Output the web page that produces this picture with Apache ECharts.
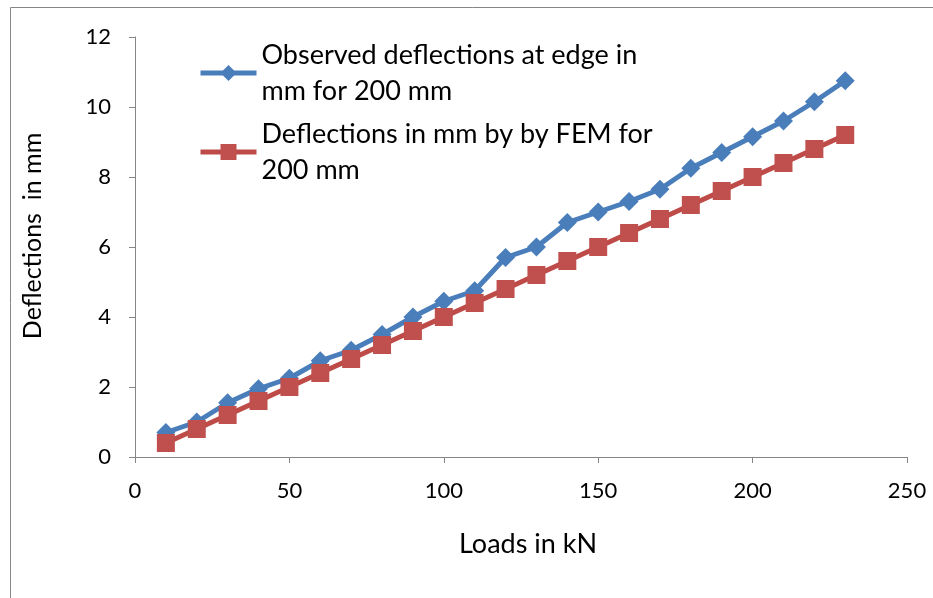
<!DOCTYPE html>
<html>
<head>
<meta charset="utf-8">
<script src="https://cdn.jsdelivr.net/npm/echarts@6/dist/echarts.min.js"></script>
<style>
  html, body { margin: 0; padding: 0; background: #fff; }
  #chart { width: 933px; height: 598px; }
</style>
</head>
<body>
<div id="chart"></div>
<script>
// Loads (kN) and deflections (mm)
const loads = [10, 20, 30, 40, 50, 60, 70, 80, 90, 100, 110, 120, 130, 140, 150, 160, 170, 180, 190, 200, 210, 220, 230];
const observed = [0.7, 1.0, 1.55, 1.95, 2.25, 2.75, 3.05, 3.5, 4.0, 4.45, 4.75, 5.7, 6.0, 6.7, 7.0, 7.3, 7.65, 8.25, 8.7, 9.15, 9.6, 10.15, 10.75];
const fem = [0.4, 0.8, 1.2, 1.6, 2.0, 2.4, 2.8, 3.2, 3.6, 4.0, 4.4, 4.8, 5.2, 5.6, 6.0, 6.4, 6.8, 7.2, 7.6, 8.0, 8.4, 8.8, 9.2];
const seriesNames = ['Observed deflections at edge in\nmm for 200 mm', 'Deflections in mm by by FEM for\n200 mm'];
const xTitle = 'Loads in kN';
const yTitle = 'Deflections  in mm';

const FONT = 'Lato';
const AXIS_GRAY = '#868686';
const LINE_H = 36;

const pairs = (xs, ys) => xs.map((x, i) => [x, ys[i]]);

const legendBase = {
  orient: 'vertical',
  left: 198,
  padding: 0,
  itemWidth: 56,
  itemHeight: 20,
  itemGap: 0,
  lineStyle: { width: 5 },
  textStyle: {
    fontFamily: FONT,
    fontSize: 27,
    color: '#000',
    lineHeight: LINE_H,
    padding: [LINE_H, 0, 0, 0]
  }
};

const chart = echarts.init(document.getElementById('chart'), null, { renderer: 'canvas' });
chart.setOption({
  backgroundColor: '#fff',
  animation: false,
  textStyle: { fontFamily: FONT },
  graphic: [{
    type: 'rect',
    shape: { x: 10.5, y: 7.5, width: 1000, height: 1000 },
    style: { fill: 'none', stroke: AXIS_GRAY, lineWidth: 1 },
    silent: true
  }],
  grid: { left: 135, right: 26, top: 37, bottom: 141 },
  legend: [
    Object.assign({}, legendBase, { top: 19, data: [seriesNames[0]] }),
    Object.assign({}, legendBase, { top: 98, data: [seriesNames[1]] })
  ],
  xAxis: {
    type: 'value',
    min: 0, max: 250, interval: 50,
    name: xTitle,
    nameLocation: 'middle',
    nameGap: 74,
    nameTextStyle: { fontFamily: FONT, fontSize: 27, color: '#000', padding: [0, 0, 0, 14] },
    axisLine: { show: true, lineStyle: { color: AXIS_GRAY, width: 1 } },
    axisTick: { show: true, inside: false, length: 6, lineStyle: { color: AXIS_GRAY } },
    axisLabel: { margin: 23, fontFamily: FONT, fontSize: 22, color: '#000' },
    splitLine: { show: false }
  },
  yAxis: {
    type: 'value',
    min: 0, max: 12, interval: 2,
    name: yTitle,
    nameLocation: 'middle',
    nameGap: 90,
    nameRotate: 90,
    nameTextStyle: { fontFamily: FONT, fontSize: 25, color: '#000', padding: [0, 0, 0, 22] },
    axisLine: { show: true, lineStyle: { color: AXIS_GRAY, width: 1 } },
    axisTick: { show: true, inside: false, length: 6, lineStyle: { color: AXIS_GRAY } },
    axisLabel: { margin: 24, fontFamily: FONT, fontSize: 22, color: '#000' },
    splitLine: { show: false }
  },
  series: [
    {
      name: seriesNames[0],
      type: 'line',
      data: pairs(loads, observed),
      symbol: 'diamond',
      symbolSize: 19,
      lineStyle: { color: '#4A7EBB', width: 5 },
      itemStyle: { color: '#4A7EBB', borderWidth: 0 },
      z: 3
    },
    {
      name: seriesNames[1],
      type: 'line',
      data: pairs(loads, fem),
      symbol: 'rect',
      symbolSize: 18,
      lineStyle: { color: '#BE4B48', width: 5 },
      itemStyle: { color: '#C0504D', borderWidth: 0 },
      z: 4
    }
  ]
});
</script>
</body>
</html>
